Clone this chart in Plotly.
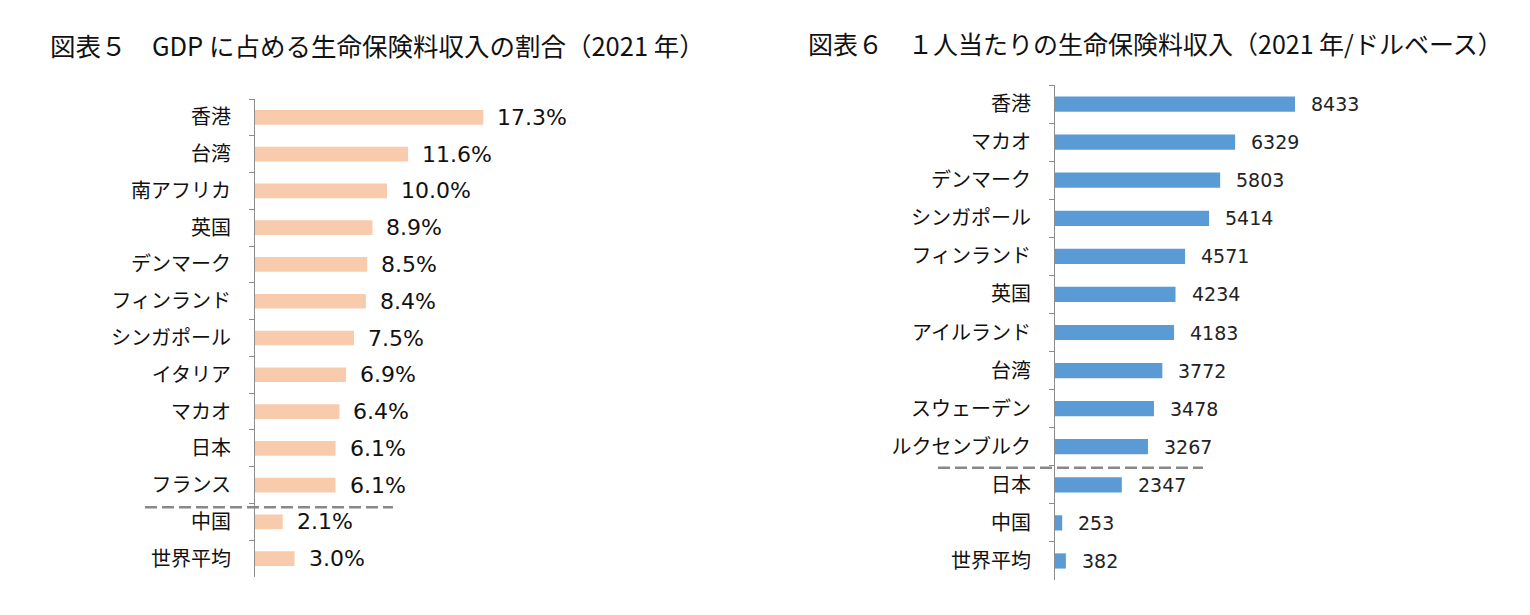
import plotly.graph_objects as go

# ── data ──────────────────────────────────────────────────────
left_title = '図表５　GDP に占める生命保険料収入の割合（2021 年）'
left_cats = ['香港', '台湾', '南アフリカ', '英国', 'デンマーク', 'フィンランド', 'シンガポール',
             'イタリア', 'マカオ', '日本', 'フランス', '中国', '世界平均']
left_vals = [17.3, 11.6, 10.0, 8.9, 8.5, 8.4, 7.5, 6.9, 6.4, 6.1, 6.1, 2.1, 3.0]

right_title = '図表６　１人当たりの生命保険料収入（2021 年/ドルベース）'
right_cats = ['香港', 'マカオ', 'デンマーク', 'シンガポール', 'フィンランド', '英国', 'アイルランド',
              '台湾', 'スウェーデン', 'ルクセンブルク', '日本', '中国', '世界平均']
right_vals = [8433, 6329, 5803, 5414, 4571, 4234, 4183, 3772, 3478, 3267, 2347, 253, 382]

JP = 'Noto Sans CJK JP'
NUM = 'DejaVu Sans'
OFF = 8                      # page body margin
W, H = 1530 - 2 * OFF, 615 - 2 * OFF


def px(v):  # reference x pixel -> paper
    return (v - OFF) / W


def py(v):  # reference y pixel -> paper
    return 1 - (v - OFF) / H


fig = go.Figure()

fig.add_trace(go.Bar(
    x=left_vals, y=left_cats, orientation='h',
    marker=dict(color='#F8CBAD', line=dict(width=0)),
    xaxis='x', yaxis='y', showlegend=False,
))
fig.add_trace(go.Bar(
    x=right_vals, y=right_cats, orientation='h',
    marker=dict(color='#5B9BD5', line=dict(width=0)),
    xaxis='x2', yaxis='y2', showlegend=False,
))

annotations = []
for c, v in zip(left_cats, left_vals):
    annotations.append(dict(x=v, y=c, xref='x', yref='y', text=f'{v:.1f}%',
                            showarrow=False, xanchor='left', xshift=12,
                            font=dict(family=NUM, size=22, color='#111')))
for c, v in zip(right_cats, right_vals):
    annotations.append(dict(x=v, y=c, xref='x2', yref='y2', text=f'{v}',
                            showarrow=False, xanchor='left', xshift=14,
                            font=dict(family=NUM, size=19, color='#222')))

annotations.append(dict(x=px(48), y=py(45), xref='paper', yref='paper', text=left_title,
                        showarrow=False, xanchor='left', yanchor='middle',
                        font=dict(family=JP, size=25.5, color='#111')))
annotations.append(dict(x=px(806), y=py(43), xref='paper', yref='paper', text=right_title,
                        showarrow=False, xanchor='left', yanchor='middle',
                        font=dict(family=JP, size=25, color='#111')))

# dashed separators
shapes = [
    dict(type='line', xref='paper', yref='y', x0=px(145), x1=px(393), y0=10.6, y1=10.6,
         line=dict(color='#888888', width=2.5, dash='12px,5px')),
    dict(type='line', xref='paper', yref='y2', x0=px(938), x1=px(1203), y0=9.55, y1=9.55,
         line=dict(color='#888888', width=2.5, dash='12px,5px')),
]

yax = dict(type='category', autorange='reversed', showline=True, linecolor='#8c8c8c',
           linewidth=1, ticks='outside', ticklen=5, tickcolor='#8c8c8c',
           tickson='boundaries', showgrid=False, zeroline=False,
           tickfont=dict(family=JP, size=20, color='#111'), ticklabelstandoff=19)
xax = dict(visible=False, showgrid=False, zeroline=False)

fig.update_layout(
    width=W, height=H,
    margin=dict(l=0, r=0, t=0, b=0),
    paper_bgcolor='white', plot_bgcolor='white',
    bargap=0.6,
    xaxis=dict(xax, domain=[px(255), px(700)], range=[0, 445 / 13.2], anchor='y'),
    yaxis=dict(yax, domain=[py(577), py(99)], anchor='x'),
    xaxis2=dict(xax, domain=[px(1055), px(1500)], range=[0, 445 / 0.02846], anchor='y2'),
    yaxis2=dict(yax, domain=[py(580), py(85)], anchor='x2'),
    annotations=annotations,
    shapes=shapes,
)

fig.write_html('out.html')
